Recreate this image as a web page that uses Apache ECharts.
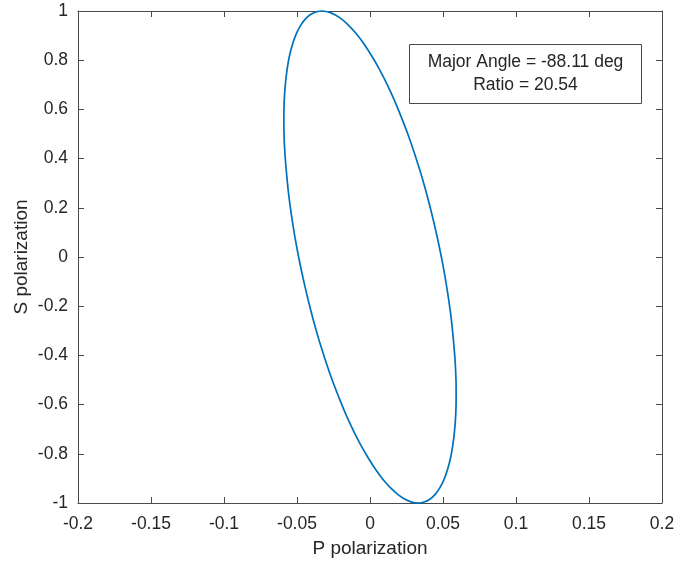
<!DOCTYPE html>
<html>
<head>
<meta charset="utf-8">
<script src="https://cdn.jsdelivr.net/npm/echarts@6/dist/echarts.min.js"></script>
<style>
  html, body { margin: 0; padding: 0; background: #fff; }
  #chart { width: 678px; height: 563px; }
</style>
</head>
<body>
<div id="chart"></div>
<script>
// Polarization ellipse traced point by point (P component, S component)
const pX = [-0.0330, -0.0371, -0.0410, -0.0445, -0.0477, -0.0506, -0.0530, -0.0551, -0.0567,
            -0.0579, -0.0587, -0.0590, -0.0589, -0.0583, -0.0572, -0.0558, -0.0539, -0.0516,
            -0.0489, -0.0458, -0.0424, -0.0387, -0.0347, -0.0304, -0.0259, -0.0211, -0.0163,
            -0.0113, -0.0062, -0.0010, 0.0041, 0.0092, 0.0143, 0.0192, 0.0240, 0.0286,
            0.0330, 0.0371, 0.0410, 0.0445, 0.0477, 0.0506, 0.0530, 0.0551, 0.0567,
            0.0579, 0.0587, 0.0590, 0.0589, 0.0583, 0.0572, 0.0558, 0.0539, 0.0516,
            0.0489, 0.0458, 0.0424, 0.0387, 0.0347, 0.0304, 0.0259, 0.0211, 0.0163,
            0.0113, 0.0062, 0.0010, -0.0041, -0.0092, -0.0143, -0.0192, -0.0240, -0.0286,
            -0.0330];
const pY = [1.0000, 0.9962, 0.9848, 0.9659, 0.9397, 0.9063, 0.8660, 0.8192, 0.7660,
            0.7071, 0.6428, 0.5736, 0.5000, 0.4226, 0.3420, 0.2588, 0.1736, 0.0872,
            0.0000, -0.0872, -0.1736, -0.2588, -0.3420, -0.4226, -0.5000, -0.5736, -0.6428,
            -0.7071, -0.7660, -0.8192, -0.8660, -0.9063, -0.9397, -0.9659, -0.9848, -0.9962,
            -1.0000, -0.9962, -0.9848, -0.9659, -0.9397, -0.9063, -0.8660, -0.8192, -0.7660,
            -0.7071, -0.6428, -0.5736, -0.5000, -0.4226, -0.3420, -0.2588, -0.1736, -0.0872,
            0.0000, 0.0872, 0.1736, 0.2588, 0.3420, 0.4226, 0.5000, 0.5736, 0.6428,
            0.7071, 0.7660, 0.8192, 0.8660, 0.9063, 0.9397, 0.9659, 0.9848, 0.9962,
            1.0000];

const xRange = [-0.2, 0.2, 0.05];
const yRange = [-1, 1, 0.2];
const xTitle = 'P polarization';
const yTitle = 'S polarization';
const noteLines = ['Major Angle = -88.11 deg', 'Ratio = 20.54'];

const FONT = '"Liberation Sans", Arial, Helvetica, sans-serif';
const INK = '#262626';
const FRAME = '#4a4a4a';

const chart = echarts.init(document.getElementById('chart'), null, { renderer: 'canvas' });

function valueAxis(range, pos, withLabels, name) {
  return {
    type: 'value',
    position: pos,
    min: range[0], max: range[1], interval: range[2],
    name: withLabels ? name : '',
    nameLocation: 'middle',
    nameGap: pos === 'bottom' ? 36 : 47,
    nameMoveOverlap: false,
    nameTextStyle: { color: INK, fontFamily: FONT, fontSize: 19 },
    axisLine: { show: true, onZero: false, lineStyle: { color: FRAME, width: 1 } },
    axisTick: { show: true, inside: true, length: 6, lineStyle: { color: FRAME, width: 1 } },
    axisLabel: {
      show: withLabels, color: INK, fontFamily: FONT, fontSize: 17.5,
      margin: pos === 'bottom' ? 12 : 10
    },
    splitLine: { show: false }
  };
}

const pts = pX.map((x, i) => [x, pY[i]]);

chart.setOption({
  animation: false,
  backgroundColor: '#fff',
  grid: { left: 78, right: 16, top: 11, bottom: 59 },
  xAxis: [
    valueAxis(xRange, 'bottom', true, xTitle),
    valueAxis(xRange, 'top', false, '')
  ],
  yAxis: [
    valueAxis(yRange, 'left', true, yTitle),
    valueAxis(yRange, 'right', false, '')
  ],
  series: [{
    type: 'line',
    data: pts,
    xAxisIndex: 0, yAxisIndex: 0,
    smooth: 0.2,
    showSymbol: false,
    lineStyle: { color: '#0072BD', width: 1.7 },
    clip: false
  }],
  graphic: [{
    type: 'group',
    left: 409, top: 44,
    children: [{
      type: 'rect',
      shape: { x: 0, y: 0, width: 232, height: 59 },
      style: { fill: '#fff', stroke: FRAME, lineWidth: 1 }
    }, {
      type: 'text',
      x: 116, y: 29.5,
      style: {
        text: noteLines.join('\n'),
        fill: INK, font: '17.5px ' + FONT,
        align: 'center', verticalAlign: 'middle', lineHeight: 23
      }
    }]
  }]
});
</script>
</body>
</html>
